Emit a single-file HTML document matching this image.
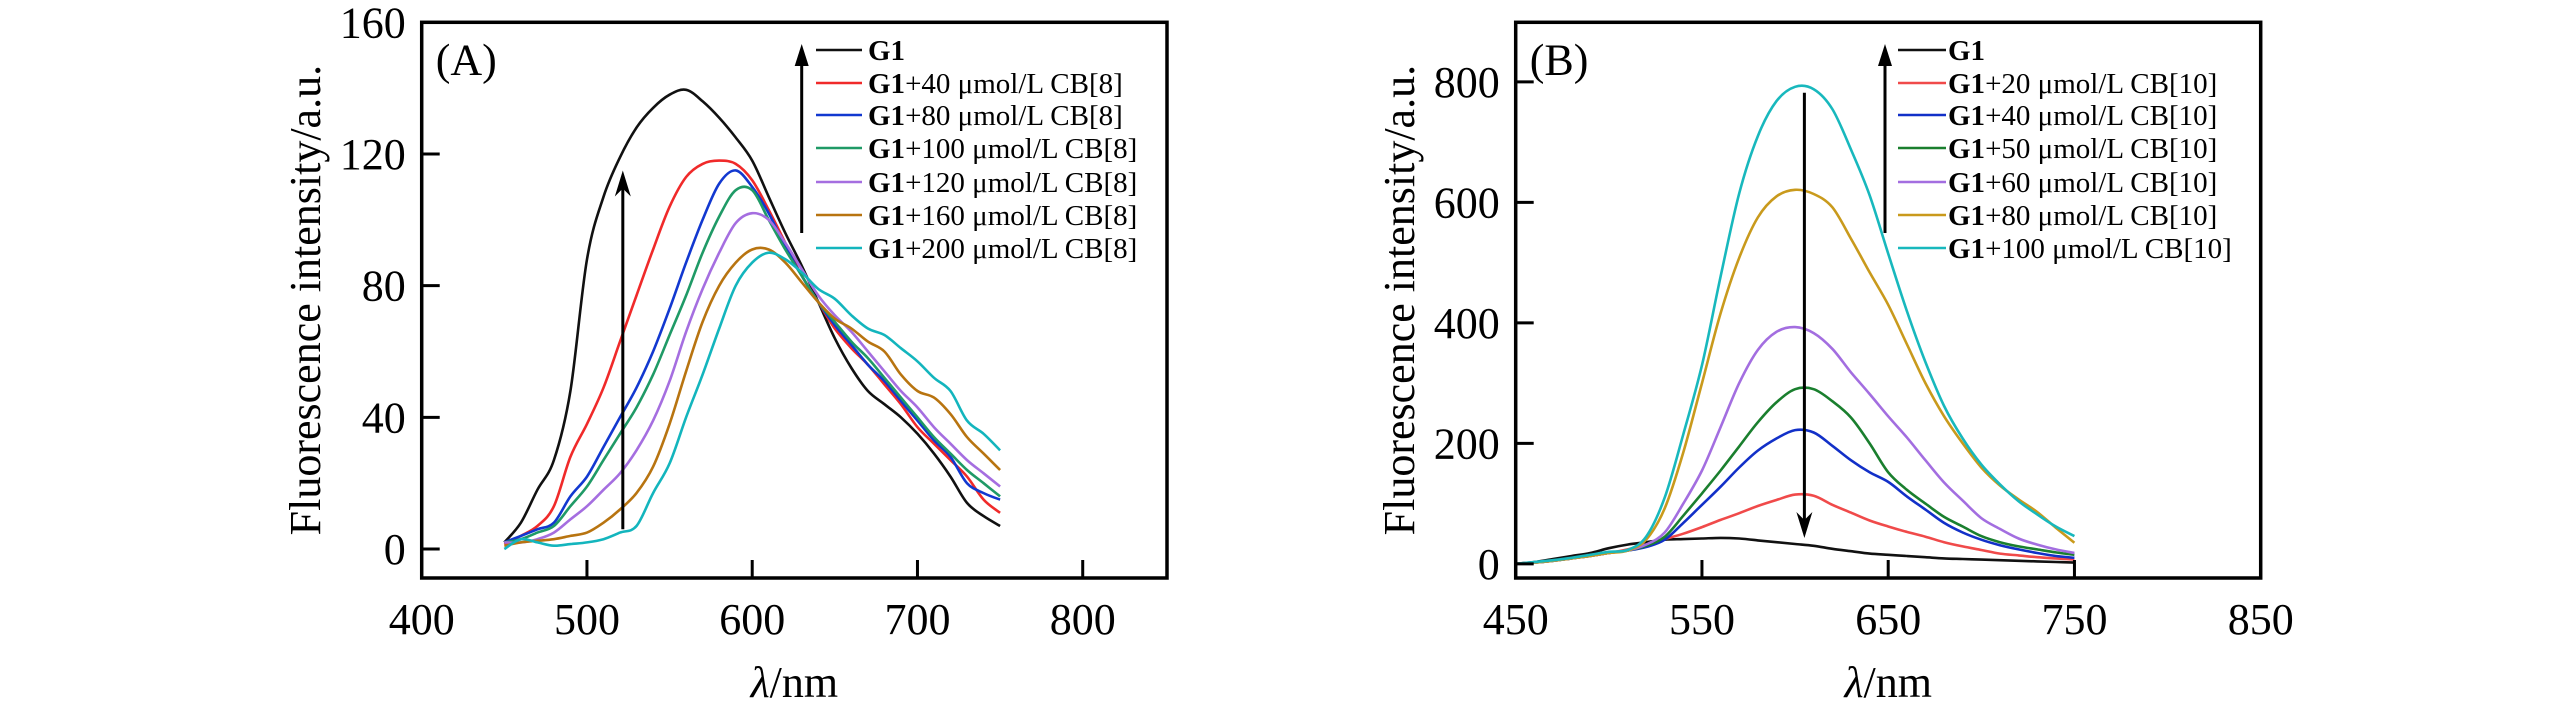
<!DOCTYPE html>
<html><head><meta charset="utf-8"><style>
html,body{margin:0;padding:0;background:#fff;}
svg{display:block;font-family:"Liberation Serif","Times New Roman",serif;}
</style></head><body>
<svg id="fig" width="2567" height="709" viewBox="0 0 2567 709" xmlns="http://www.w3.org/2000/svg">
<g id="pA"></g>
<g id="pB"></g>
</svg>
<script>
// ---------- Panel A data ----------
const wlA = [450,460,470,480,490,500,510,520,530,540,550,560,570,580,590,600,610,620,630,640,650,660,670,680,690,700,710,720,730,740,750];
const aG1   = [2,8,18,27,48,88,107,119,128,134,138,139.5,136,131,125,118,107,96,86,75,64,55,48,44,40,35,29,22,14,10,7];
const aCB40 = [1.5,4,7,13,28,38,49,63,77,91,104,113,117,118,117,112,103,93,83,75,67,61,56,50,44,37,32,27,22,15,11];
const aCB80 = [2,4,6,8,16,22,31,40,49,60,73,87,100,111,115,110,102,92,83,75,68,62,56,51,45,39,33,28,20,17,15];
const aCB100= [2,3,5,7,13,19,27,35,43,53,65,77,90,101,109,109,100,91,83,75,69,63,58,52,46,40,34,29,24,20,16];
const aCB120= [2,2,3,5,9,13,18,23,30,39,51,66,79,90,99,102,100,93,85,77,71,66,60,54,48,43,37,32,27,23,19];
const aCB160= [1,2,2.5,3,4,5,8,12,17,25,38,54,69,80,87,91,91,87,81,75,70,67,63,60,53,48,46,41,34,29,24];
const aCB200= [0,3,2,1,1.5,2,3,5,7,17,26,40,53,67,80,87,90,88,84,79,76,71,67,65,61,57,52,48,39,35,30];
const seriesA = [aG1,aCB40,aCB80,aCB100,aCB120,aCB160,aCB200];
const labelsA = ["+40 μmol/L CB[8]","+80 μmol/L CB[8]","+100 μmol/L CB[8]","+120 μmol/L CB[8]","+160 μmol/L CB[8]","+200 μmol/L CB[8]"];
const colorsA = ["#111","#f02a2a","#1238d0","#1f9a66","#a56ee0","#b87410","#13b5bd"];
const xTicksA = [400,500,600,700,800];
const yTicksA = [0,40,80,120,160];
const arrowA = [521.7, 6, 115];

// ---------- Panel B data ----------
const wlB = [450,460,470,480,490,500,510,520,530,540,550,560,570,580,590,600,610,620,630,640,650,660,670,680,690,700,710,720,730,740,750];
const bG1   = [0,3,8,13,18,26,32,36,40,41,42,43,42,39,36,33,30,25,21,17,15,13,11,9,8,7,6,5,4,3,2];
const bCB20 = [0,2,5,9,13,18,24,32,41,50,61,73,84,96,106,115,113,98,85,72,62,53,45,36,29,23,17,14,11,9,7];
const bCB40 = [0,2,5,9,13,18,22,28,40,68,98,128,160,188,208,222,218,196,172,152,136,112,90,68,52,40,31,24,18,13,10];
const bCB50 = [0,2,5,9,13,18,22,30,45,80,117,155,195,235,268,290,290,270,243,200,152,123,100,78,62,46,36,29,24,19,15];
const bCB60 = [0,2,5,9,13,18,22,32,52,100,155,227,300,355,385,393,383,357,318,282,245,210,172,135,105,76,58,42,32,24,18];
const bCB80 = [0,2,5,9,13,18,22,40,92,185,300,416,508,575,610,621,614,592,540,484,430,365,300,245,200,160,130,107,86,60,35];
const bCB100= [0,3,6,10,15,20,23,45,110,215,330,477,615,710,768,792,788,755,688,612,515,420,335,262,208,165,132,104,82,62,46];
const seriesB = [bG1,bCB20,bCB40,bCB50,bCB60,bCB80,bCB100];
const labelsB = ["+20 μmol/L CB[10]","+40 μmol/L CB[10]","+50 μmol/L CB[10]","+60 μmol/L CB[10]","+80 μmol/L CB[10]","+100 μmol/L CB[10]"];
const colorsB = ["#111","#f04a4a","#1230c8","#1a7f2e","#a36ee0","#c99a1c","#18b8bd"];
const xTicksB = [450,550,650,750,850];
const yTicksB = [0,200,400,600,800];
const arrowB = [605, 782, 43];

const NS = "http://www.w3.org/2000/svg";
function mk(tag, attrs, parent){
  const e = document.createElementNS(NS, tag);
  for (const k in attrs) e.setAttribute(k, attrs[k]);
  parent.appendChild(e);
  return e;
}
function smoothPath(pts){
  let d = "M" + pts[0][0].toFixed(1) + "," + pts[0][1].toFixed(1);
  for (let i=0;i<pts.length-1;i++){
    const p0 = pts[i-1]||pts[i], p1=pts[i], p2=pts[i+1], p3=pts[i+2]||pts[i+1];
    const c1x=p1[0]+(p2[0]-p0[0])/6, c1y=p1[1]+(p2[1]-p0[1])/6;
    const c2x=p2[0]-(p3[0]-p1[0])/6, c2y=p2[1]-(p3[1]-p1[1])/6;
    d += " C"+c1x.toFixed(1)+","+c1y.toFixed(1)+" "+c2x.toFixed(1)+","+c2y.toFixed(1)+" "+p2[0].toFixed(1)+","+p2[1].toFixed(1);
  }
  return d;
}

function drawPanel(g, cfg){
  const {L,R,T,B,x0,x1,y0,y1} = cfg;
  const sx = v => L + (v-x0)/(x1-x0)*(R-L);
  const sy = v => B - (v-y0)/(y1-y0)*(B-T);
  // series
  cfg.series.forEach((s,i)=>{
    const pts = cfg.wl.map((w,j)=>[sx(w), sy(s[j])]);
    const p = mk("path",{d:smoothPath(pts),fill:"none",stroke:cfg.colors[i],"stroke-width":2.6,"stroke-linejoin":"round"},g);
    
    
  });
  // frame
  const fr = mk("rect",{x:L,y:T,width:R-L,height:B-T,fill:"none",stroke:"#000","stroke-width":3.5},g);
  
  
  // x ticks
  cfg.xTicks.forEach(v=>{
    const x = sx(v);
    if (v!==x0 && v!==x1){
      const t = mk("line",{x1:x,x2:x,y1:B,y2:B-18,stroke:"#000","stroke-width":3},g);
      
      
    }
    const tx = mk("text",{x:x,y:B+56,"font-size":44,"text-anchor":"middle"},g);
    tx.textContent = v;
    
    
  });
  cfg.yTicks.forEach(v=>{
    const y = sy(v);
    if (Math.abs(y-T)>3){
      const t = mk("line",{x1:L,x2:L+18,y1:y,y2:y,stroke:"#000","stroke-width":3},g);
      
      
    }
    const tx = mk("text",{x:L-16,y:y+15,"font-size":44,"text-anchor":"end"},g);
    tx.textContent = v;
    
    
  });
  // y title
  const yt = mk("text",{x:0,y:0,"font-size":44,"text-anchor":"middle",transform:"translate("+cfg.ytX+","+((T+B)/2)+") rotate(-90)"},g);
  yt.textContent = "Fluorescence intensity/a.u.";
  
  
  // x title
  const xt = mk("text",{x:(L+R)/2,y:697,"font-size":44,"text-anchor":"middle"},g);
  const it = mk("tspan",{"font-style":"italic"},xt); it.textContent="λ";
  const nm = mk("tspan",{},xt); nm.textContent="/nm";
  
  
  // panel label
  const pl = mk("text",{x:L+14,y:T+52,"font-size":44},g);
  pl.textContent = cfg.tag;
  
  
  // inner arrow
  const ax = sx(cfg.arrow[0]), ay1 = sy(cfg.arrow[1]), ay2 = sy(cfg.arrow[2]);
  const dir = ay2 < ay1 ? -1 : 1;
  const al = mk("line",{x1:ax,x2:ax,y1:ay1,y2:ay2-dir*18,stroke:"#000","stroke-width":3},g);
  
  
  const ah = mk("path",{d:"M"+ax+","+ay2+" L"+(ax-8)+","+(ay2-dir*26)+" L"+ax+","+(ay2-dir*18)+" L"+(ax+8)+","+(ay2-dir*26)+"Z",fill:"#000"},g);
  
  
  // legend
  const lg = mk("g",{},g);
  
  
  const rows = [50,83,115,148,182,215,248];
  const la = mk("line",{x1:cfg.legArrowX,x2:cfg.legArrowX,y1:233,y2:60,stroke:"#000","stroke-width":3},lg);
  
  
  const lh = mk("path",{d:"M"+cfg.legArrowX+",44 L"+(cfg.legArrowX-7)+",66 L"+(cfg.legArrowX+7)+",66Z",fill:"#000"},lg);
  
  
  rows.forEach((y,i)=>{
    const en = mk("g",{},lg);
    
    
    mk("line",{x1:cfg.legLineX0,x2:cfg.legLineX1,y1:y,y2:y,stroke:cfg.colors[i],"stroke-width":2.6},en);
    const t = mk("text",{x:cfg.legTextX,y:y+10,"font-size":29},en);
    const b = mk("tspan",{"font-weight":"bold"},t); b.textContent="G1";
    if (i>0){ const r = mk("tspan",{},t); r.textContent = cfg.labels[i-1]; }
  });
}

drawPanel(document.getElementById("pA"),{
  L:421.7,R:1167,T:22.3,B:578,x0:400,x1:851,y0:-8.8,y1:160,
  wl:wlA,series:seriesA,colors:colorsA,labels:labelsA,xTicks:xTicksA,yTicks:yTicksA,
  arrow:arrowA,ytX:320,tag:"(A)",legArrowX:801.7,legLineX0:816,legLineX1:862,legTextX:868
});
drawPanel(document.getElementById("pB"),{
  L:1515.7,R:2260.7,T:22.3,B:578,x0:450,x1:850,y0:-23.5,y1:899,
  wl:wlB,series:seriesB,colors:colorsB,labels:labelsB,xTicks:xTicksB,yTicks:yTicksB,
  arrow:arrowB,ytX:1414,tag:"(B)",legArrowX:1885,legLineX0:1898,legLineX1:1946,legTextX:1948
});
</script>
</body></html>
